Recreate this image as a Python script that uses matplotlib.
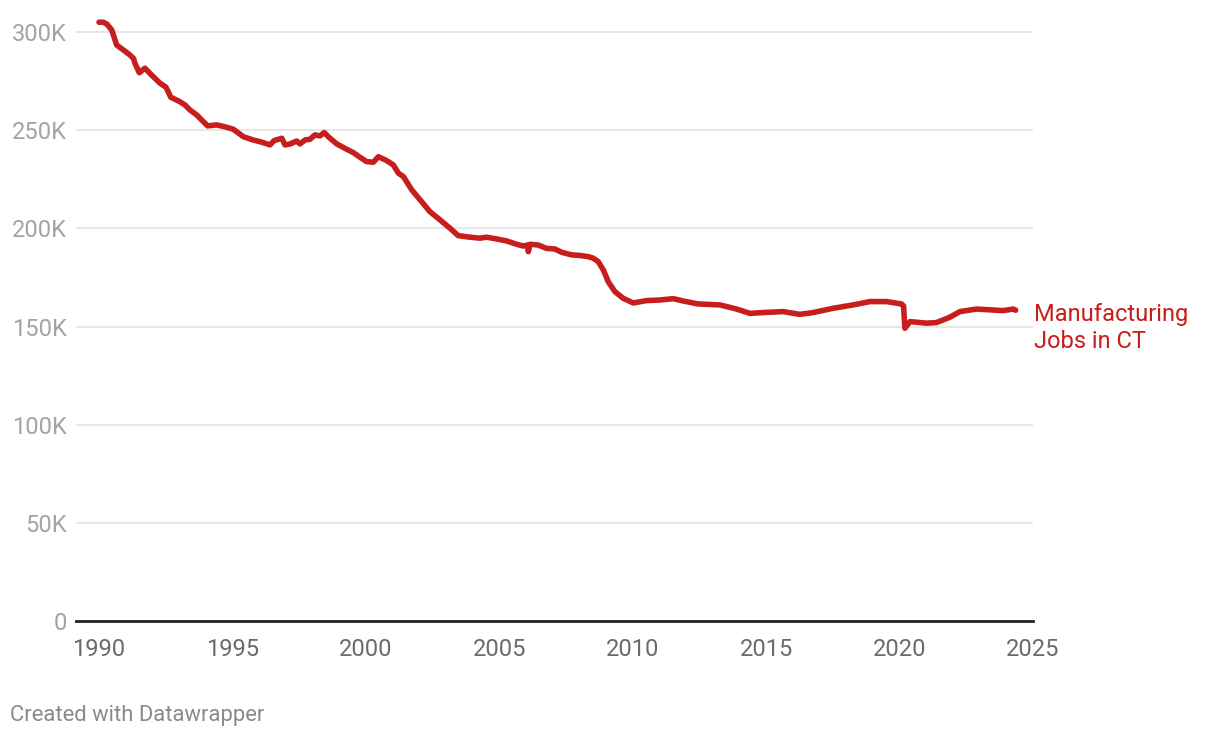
import matplotlib
matplotlib.use("Agg")
import matplotlib.pyplot as plt
from matplotlib.ticker import FuncFormatter

plt.rcParams['font.family'] = ['Roboto', 'DejaVu Sans']

# Empregos na industria em CT (milhares)
anos = [1990.00, 1990.16, 1990.30, 1990.48, 1990.66, 1990.91, 1991.16, 1991.29,
        1991.35, 1991.51, 1991.72, 1991.97, 1992.29, 1992.51, 1992.69, 1993.03,
        1993.22, 1993.41, 1993.66, 1993.85, 1994.07, 1994.41, 1994.78, 1995.03,
        1995.41, 1995.78, 1996.10, 1996.41, 1996.56, 1996.85, 1996.97, 1997.16,
        1997.41, 1997.53, 1997.72, 1997.91, 1998.09, 1998.28, 1998.44, 1998.59,
        1998.91, 1999.28, 1999.53, 1999.78, 2000.03, 2000.28, 2000.47, 2000.78,
        2001.03, 2001.22, 2001.41, 2001.72, 2002.09, 2002.40, 2002.78, 2003.15,
        2003.46, 2003.90, 2004.27, 2004.53, 2004.90, 2005.27, 2005.65, 2005.90,
        2006.05, 2006.09, 2006.15, 2006.46, 2006.77, 2007.08, 2007.34, 2007.71,
        2008.02, 2008.33, 2008.52, 2008.71, 2008.90, 2009.08, 2009.33, 2009.64,
        2010.02, 2010.52, 2011.02, 2011.52, 2011.89, 2012.45, 2013.27, 2013.89,
        2014.39, 2015.01, 2015.64, 2016.26, 2016.76, 2017.51, 2018.26, 2018.89,
        2019.51, 2020.07, 2020.15, 2020.20, 2020.39, 2021.01, 2021.38, 2021.88,
        2022.26, 2022.88, 2023.51, 2023.88, 2024.26, 2024.35]
empregos = [305.0, 305.0, 304.0, 301.0, 293.4, 290.9, 288.3, 286.6,
            284.0, 279.3, 281.6, 278.1, 273.9, 271.9, 266.8, 264.5,
            262.9, 260.3, 257.8, 255.2, 252.2, 252.7, 251.5, 250.5,
            246.7, 245.0, 243.9, 242.5, 244.7, 245.9, 242.5, 243.0,
            244.5, 243.0, 245.0, 245.4, 247.6, 247.1, 248.8, 246.7,
            243.0, 240.3, 238.6, 236.2, 234.0, 233.7, 236.5, 234.5,
            232.3, 228.1, 226.3, 219.6, 213.6, 208.5, 204.3, 200.1,
            196.3, 195.5, 195.0, 195.5, 194.6, 193.6, 191.9, 191.0,
            191.5, 188.1, 191.9, 191.5, 189.8, 189.5, 187.8, 186.5,
            186.2, 185.6, 184.8, 183.0, 178.8, 172.9, 167.8, 164.4,
            162.0, 163.2, 163.5, 164.2, 163.0, 161.5, 161.0, 158.9,
            156.7, 157.2, 157.6, 156.2, 157.1, 159.3, 161.0, 162.7,
            162.7, 161.5, 160.5, 149.1, 152.5, 151.7, 152.0, 154.7,
            157.6, 158.9, 158.4, 158.1, 158.9, 158.3]

ticks_y = [0, 50, 100, 150, 200, 250, 300]
ticks_x = [1990, 1995, 2000, 2005, 2010, 2015, 2020, 2025]

vermelho = '#c71e1d'

figura = plt.figure(figsize=(12.2, 7.38), dpi=100)
eixo = figura.add_axes([76 / 1220, 1 - 621 / 738, (1033 - 76) / 1220, (621 - 12.4) / 738])

eixo.plot(anos, empregos, color=vermelho, linewidth=4,
          solid_capstyle='round', solid_joinstyle='round', zorder=3)

eixo.set_xlim(1990 - 23 / 26.686, 2025)
eixo.set_ylim(0, 310)
eixo.set_yticks(ticks_y)
eixo.set_xticks(ticks_x)
eixo.yaxis.set_major_formatter(FuncFormatter(lambda v, p: '0' if v == 0 else f'{int(v)}K'))

eixo.grid(axis='y', color='#e0e0e0', linewidth=1.1, zorder=0)
for lado in ['top', 'right', 'left']:
    eixo.spines[lado].set_visible(False)
eixo.spines['bottom'].set_color('#222222')
eixo.spines['bottom'].set_linewidth(2)
eixo.spines['bottom'].set_zorder(4)

eixo.tick_params(axis='y', length=0, pad=6.5, labelsize=17, labelcolor='#a3a3a3')
eixo.tick_params(axis='x', length=0, pad=12, labelsize=17, labelcolor='#6b6b6b')

eixo.text(2025.05, 149.3, 'Manufacturing\nJobs in CT', color=vermelho, fontsize=17,
          va='center', ha='left', linespacing=1.2, clip_on=False)

figura.text(10 / 1220, 1 - 715 / 738, 'Created with Datawrapper', color='#8a8a8a',
            fontsize=15.8, va='center', ha='left')

figura.savefig('out.png', dpi=100)
